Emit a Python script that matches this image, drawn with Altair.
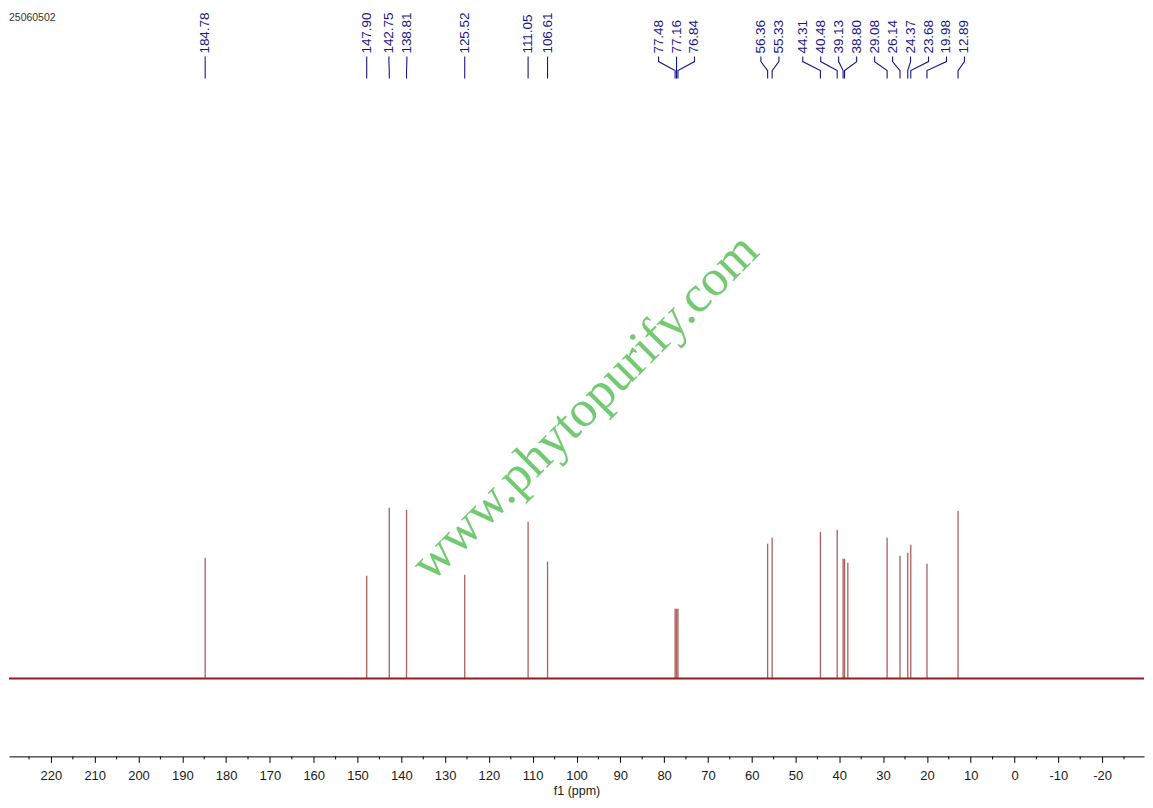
import altair as alt
import pandas as pd

# ---------------- data ----------------
sample_id = "25060502"
watermark = "www.phytopurify.com"

# peak positions (ppm) and heights (arbitrary units)
peak_ppm = [184.78, 147.90, 142.75, 138.81, 125.52, 111.05, 106.61,
            77.48, 77.16, 76.84, 56.36, 55.33, 44.31, 40.48, 39.13,
            38.80, 38.05, 29.08, 26.14, 24.37, 23.68, 19.98, 12.89]
peak_height = [121, 103, 171, 169, 104, 157, 117,
               70, 70, 70, 135, 141, 147, 149, 120,
               120, 116, 141, 123, 126, 134, 115, 168]

# peak-pick labels shown at the top
label_ppm = [184.78, 147.90, 142.75, 138.81, 125.52, 111.05, 106.61,
             77.48, 77.16, 76.84, 56.36, 55.33, 44.31, 40.48, 39.13,
             38.80, 29.08, 26.14, 24.37, 23.68, 19.98, 12.89]

# axis ticks: labelled every 10 ppm, minor ticks in between
major_ticks = [220, 210, 200, 190, 180, 170, 160, 150, 140, 130, 120, 110,
               100, 90, 80, 70, 60, 50, 40, 30, 20, 10, 0, -10, -20]
minor_ticks = [225, 215, 205, 195, 185, 175, 165, 155, 145, 135, 125, 115,
               105, 95, 85, 75, 65, 55, 45, 35, 25, 15, 5, -5, -15, -25]

# ---------------- layout ----------------
W, H = 1137, 749
X_DOMAIN = [229.57, -29.57]
PX_PER_PPM = W / (X_DOMAIN[0] - X_DOMAIN[1])
Y_DOMAIN = [-78, 671]          # intensity units: 1 unit == 1 px, 0 == baseline
FONT = "Liberation Sans"
LABEL_COLOR = "#16168a"
SPEC_COLOR = "#8e2020"


def px_to_int(chart_y):
    """chart-pixel y -> intensity units of the y scale"""
    return Y_DOMAIN[1] - chart_y * (Y_DOMAIN[1] - Y_DOMAIN[0]) / H


def spread(values, gap):
    """label spreading: merge overlapping clusters, centre each on its mean"""
    clusters = [[v] for v in values]
    changed = True
    while changed:
        changed = False
        for i in range(len(clusters) - 1):
            a, b = clusters[i], clusters[i + 1]
            low_a = sum(a) / len(a) - (len(a) - 1) / 2 * gap
            high_b = sum(b) / len(b) + (len(b) - 1) / 2 * gap
            if low_a - high_b < gap - 1e-9:
                clusters[i] = a + b
                del clusters[i + 1]
                changed = True
                break
    pos = []
    for c in clusters:
        m = sum(c) / len(c)
        for k in range(len(c)):
            pos.append(m + ((len(c) - 1) / 2 - k) * gap)
    return pos


label_pos = spread(label_ppm, 18 / PX_PER_PPM)

x_scale = alt.Scale(domain=X_DOMAIN, nice=False, zero=False)
y_scale = alt.Scale(domain=Y_DOMAIN, nice=False, zero=False)

peaks = pd.DataFrame({"ppm": peak_ppm, "h": peak_height, "base": [0] * len(peak_ppm)})
base_df = pd.DataFrame({"b": [0]})
minor_df = pd.DataFrame({"ppm": minor_ticks})

labels = pd.DataFrame({
    "ppm": label_pos,
    "txt": ["%.2f" % v for v in label_ppm],
})

leader_rows = []
for i, (p, lp) in enumerate(zip(label_ppm, label_pos)):
    for order, (xv, cy) in enumerate([(lp, 48), (lp, 53), (p, 62), (p, 70)]):
        leader_rows.append({"id": i, "o": order, "ppm": xv, "y": px_to_int(cy)})
leaders = pd.DataFrame(leader_rows)

x_axis = alt.Axis(
    values=major_ticks,
    labelExpr="'' + datum.value",
    tickSize=6,
    labelOverlap=False,
    labelFlush=False,
    grid=False,
    domainColor="#000000",
    domainWidth=1,
    tickColor="#000000",
    tickWidth=1,
    labelFont=FONT,
    labelFontSize=13,
    labelColor="#1a1a1a",
    labelPadding=7,
    title="f1 (ppm)",
    titleFont=FONT,
    titleFontSize=12.5,
    titleFontWeight="normal",
    titleColor="#1a1a1a",
    titlePadding=2,
)


def X():
    return alt.X("ppm:Q", scale=x_scale, axis=x_axis, title="f1 (ppm)")


peak_layer = alt.Chart(peaks).mark_rule(color=SPEC_COLOR, strokeWidth=1.3, opacity=0.72).encode(
    x=X(),
    y=alt.Y("h:Q", scale=y_scale, axis=None),
    y2="base:Q",
)

baseline = alt.Chart(base_df).mark_rule(color=SPEC_COLOR, strokeWidth=1.8).encode(
    x=alt.value(0), x2=alt.value(W), y=alt.Y("b:Q", scale=y_scale, axis=None)
)

minor_layer = alt.Chart(minor_df).mark_rule(color="#000000", strokeWidth=1).encode(
    x=X(),
    y=alt.value(H), y2=alt.value(H + 3),
)

leader_layer = alt.Chart(leaders).mark_line(color=LABEL_COLOR, strokeWidth=1.1).encode(
    x=X(),
    y=alt.Y("y:Q", scale=y_scale, axis=None),
    detail="id:N",
    order="o:Q",
)

label_layer = alt.Chart(labels).mark_text(
    angle=270, align="left", baseline="middle", font=FONT, fontSize=13.5, color=LABEL_COLOR
).encode(
    x=X(),
    y=alt.value(45),
    text="txt:N",
)

id_layer = alt.Chart(pd.DataFrame({"t": [sample_id]})).mark_text(
    align="left", baseline="middle", font=FONT, fontSize=10.5, color="#333333"
).encode(x=alt.value(0), y=alt.value(9), text="t:N")

wm_layer = alt.Chart(pd.DataFrame({"t": [watermark]})).mark_text(
    angle=315, align="center", baseline="middle", font="Liberation Serif",
    fontSize=52, color="#6cc86c", opacity=0.95
).encode(x=alt.value(577), y=alt.value(399), text="t:N")

chart = alt.layer(
    peak_layer, baseline, minor_layer, leader_layer, label_layer, id_layer, wm_layer
).properties(
    width=W, height=H, padding=0, background="white"
).configure_view(stroke=None)

chart.save("out.html", embed_options={"renderer": "svg", "actions": False})
